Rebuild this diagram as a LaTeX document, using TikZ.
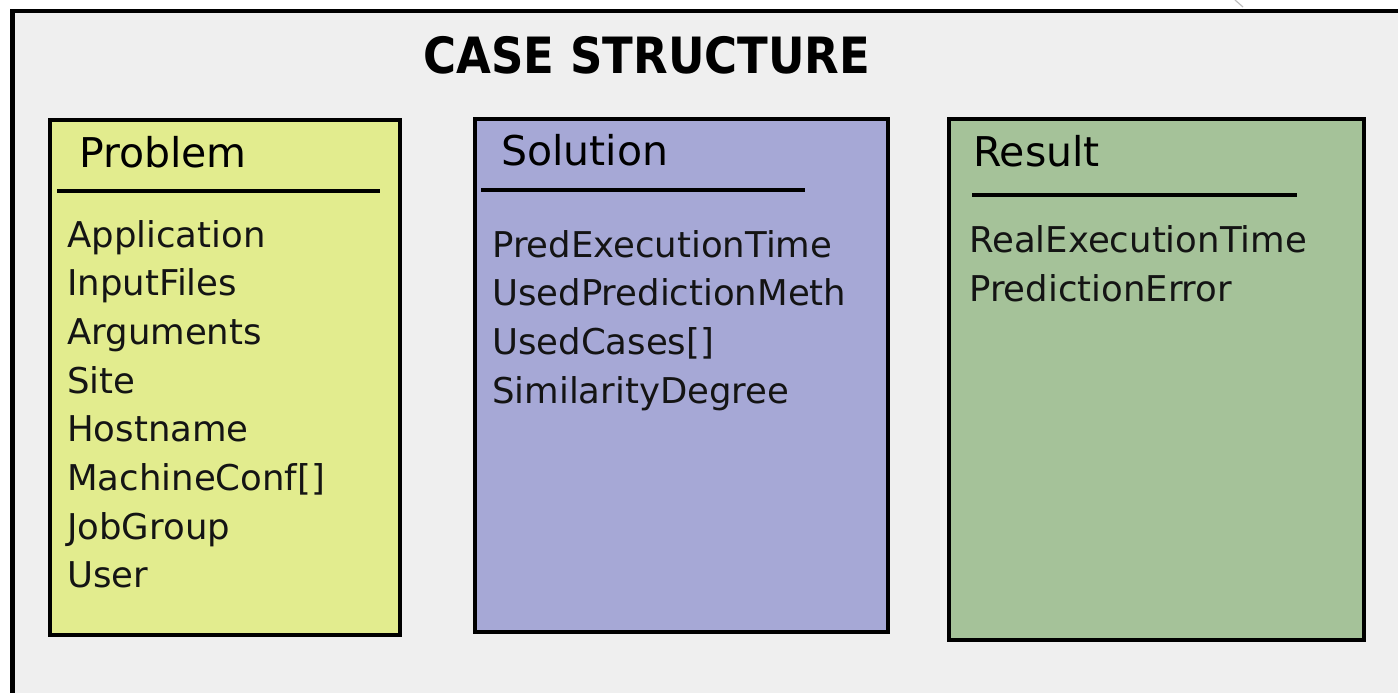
\documentclass[tikz,border=0pt]{standalone}
\usepackage{fontspec}
\setmainfont{DejaVu Sans}
\definecolor{pagebg}{HTML}{EFEFEF}
\definecolor{probfill}{HTML}{E2EC8E}
\definecolor{solfill}{HTML}{A6A8D6}
\definecolor{resfill}{HTML}{A5C299}
\tikzset{
  classbox/.style={draw=black, line width=3.5pt, anchor=north west, inner sep=0pt},
  divider/.style={line width=3.5pt, black},
  boxtitle/.style={anchor=base west, inner sep=0pt, font=\fontsize{41}{41}\selectfont},
  attr/.style={anchor=base west, inner sep=0pt, font=\fontsize{35.5}{35.5}\selectfont, text=black!92},
  heading/.style={anchor=base, inner sep=0pt, xscale=0.9, font=\fontsize{50}{50}\selectfont\bfseries}
}
\begin{document}
\begin{tikzpicture}[x=1pt, y=-1pt]
\useasboundingbox (0,0) rectangle (1398,693);
\clip (0,0) rectangle (1398,693);
\fill[white] (0,0) rectangle (1398,693);
% outer frame, running past the right and bottom edges
\draw[line width=4.3pt, fill=pagebg] (12.5,11) rectangle (1420,720);
\draw[black!25, line width=1.2pt] (1235,0) -- (1243,7);

\node[heading] (title) at (647,74) {CASE STRUCTURE};

% Problem
\node[classbox, fill=probfill, minimum width=350pt, minimum height=515pt] (prob) at (48,118) {};
\node[boxtitle] (probT) at (79,167) {Problem};
\coordinate (probL) at (57,191);
\coordinate (probR) at (380,191);
\draw[divider] (probL) -- (probR);
\foreach \t [count=\i from 0] in {Application,InputFiles,Arguments,Site,Hostname,MachineConf[],JobGroup,User}
  \node[attr] (probA\i) at (67,247+48.7*\i) {\t};

% Solution
\node[classbox, fill=solfill, minimum width=413pt, minimum height=513pt] (sol) at (473,117) {};
\node[boxtitle] (solT) at (501,165) {Solution};
\coordinate (solL) at (481,190);
\coordinate (solR) at (805,190);
\draw[divider] (solL) -- (solR);
\foreach \t [count=\i from 0] in {PredExecutionTime,UsedPredictionMeth,UsedCases[],SimilarityDegree}
  \node[attr] (solA\i) at (492,257+48.7*\i) {\t};

% Result
\node[classbox, fill=resfill, minimum width=415pt, minimum height=521pt] (res) at (947,117) {};
\node[boxtitle] (resT) at (973,166) {Result};
\coordinate (resL) at (972,195);
\coordinate (resR) at (1297,195);
\draw[divider] (resL) -- (resR);
\foreach \t [count=\i from 0] in {RealExecutionTime,PredictionError}
  \node[attr] (resA\i) at (969,252+49*\i) {\t};
\end{tikzpicture}
\end{document}
